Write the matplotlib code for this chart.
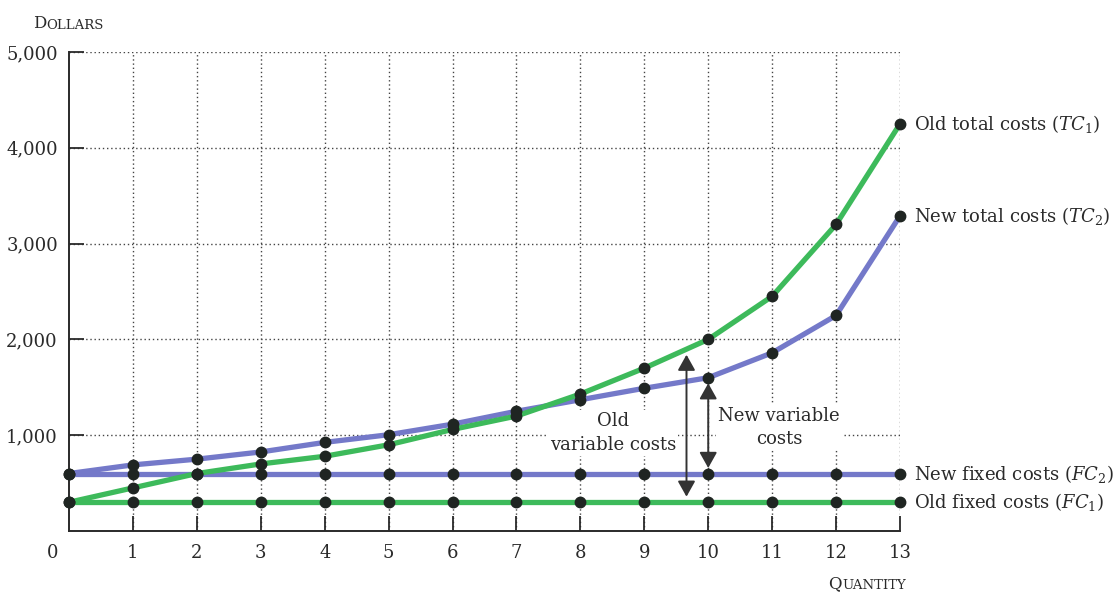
import numpy as np
import matplotlib
matplotlib.use("Agg")
import matplotlib.pyplot as plt

# ---- data -------------------------------------------------------------
quantity = list(range(0, 14))
old_fixed = 300
new_fixed = 600
old_total = [300, 450, 600, 700, 780, 900, 1060, 1200, 1430, 1700, 2000, 2450, 3200, 4250]
new_total = [600, 690, 750, 825, 925, 1005, 1115, 1250, 1370, 1490, 1600, 1860, 2250, 3290]
y_ticks = [1000, 2000, 3000, 4000, 5000]
y_tick_labels = ["1,000", "2,000", "3,000", "4,000", "5,000"]
x_ticks = list(range(1, 14))

# ---- style ------------------------------------------------------------
plt.rcParams["font.family"] = ["DejaVu Serif"]
plt.rcParams["mathtext.fontset"] = "dejavuserif"

GREEN = "#3dba5b"
BLUE = "#7479c9"
DOT = "#1f2522"
INK = "#2a2a2a"

fig = plt.figure(figsize=(11.19, 5.94), dpi=100)
ax = fig.add_axes([69 / 1119, 63 / 594, (900 - 69) / 1119, (531 - 52) / 594])

ax.set_xlim(0, 13)
ax.set_ylim(0, 5000)

q = np.array(quantity)
fc1 = np.full(len(q), old_fixed)
fc2 = np.full(len(q), new_fixed)
tc1 = np.array(old_total)
tc2 = np.array(new_total)

lw = 3.8
ax.plot(q, fc2, color=BLUE, lw=lw, zorder=3, clip_on=False, solid_capstyle="butt")
ax.plot(q, tc2, color=BLUE, lw=lw, zorder=3, clip_on=False, solid_capstyle="butt")
ax.plot(q, fc1, color=GREEN, lw=lw, zorder=4, clip_on=False, solid_capstyle="butt")
ax.plot(q, tc1, color=GREEN, lw=lw, zorder=4, clip_on=False, solid_capstyle="butt")

for series in (fc1, fc2, tc1, tc2):
    ax.plot(q, series, linestyle="none", marker="o", ms=7.5, color=DOT,
            zorder=6, clip_on=False)

# ---- axes, ticks, grid -----------------------------------------------
for side in ("top", "right"):
    ax.spines[side].set_visible(False)
for side in ("left", "bottom"):
    ax.spines[side].set_linewidth(1.4)
    ax.spines[side].set_color(INK)

ax.set_yticks(y_ticks)
ax.set_yticklabels(y_tick_labels)
ax.set_xticks(x_ticks)
ax.set_xticklabels([str(v) for v in x_ticks])
ax.tick_params(axis="both", direction="in", length=11, width=1.3, color=INK,
               labelsize=13, labelcolor=INK)
ax.tick_params(axis="x", pad=9)
ax.tick_params(axis="y", pad=8)
ax.grid(True, linestyle=(0, (1, 2)), color="#444444", linewidth=1.0, zorder=1)
ax.set_axisbelow(True)

ax.annotate("0", xy=(0, 0), xytext=(-16, -22), textcoords="offset pixels",
            ha="center", va="center", fontsize=13, color=INK)

# Small-caps axis titles
def small_caps(x, y, dx, dy, first, rest):
    t1 = ax.annotate(first, xy=(x, y), xytext=(dx, dy), textcoords="offset pixels",
                     ha="left", va="baseline", fontsize=12, color=INK,
                     annotation_clip=False)
    ax.annotate(rest, xy=(1, 0), xycoords=t1, ha="left", va="bottom",
                fontsize=9.5, color=INK, annotation_clip=False)

small_caps(0, 5000, -36, 24, "D", "OLLARS")
small_caps(11.88, 0, 0, -57, "Q", "UANTITY")

# ---- series labels ----------------------------------------------------
label_kw = dict(textcoords="offset pixels", xytext=(14, 0), ha="left",
                va="center", fontsize=13, color=INK, annotation_clip=False)
ax.annotate("Old total costs ($TC_1$)", xy=(13, tc1[-1]), **label_kw)
ax.annotate("New total costs ($TC_2$)", xy=(13, tc2[-1]), **label_kw)
ax.annotate("New fixed costs ($FC_2$)", xy=(13, new_fixed), **label_kw)
ax.annotate("Old fixed costs ($FC_1$)", xy=(13, old_fixed), **label_kw)

# ---- variable-cost arrows --------------------------------------------
arrow = dict(arrowstyle="<|-|>,head_length=0.5,head_width=0.28",
             mutation_scale=19, color="#333333", lw=1.4,
             shrinkA=4, shrinkB=4)
x_old = 9.66
ax.annotate("", xy=(x_old, np.interp(x_old, q, tc1)), xytext=(x_old, old_fixed),
            arrowprops=arrow, zorder=7)
ax.annotate("", xy=(10, tc2[10]), xytext=(10, new_fixed),
            arrowprops=arrow, zorder=7)

box = dict(facecolor="white", edgecolor="none", pad=1.5)
ax.text(8.51, 1020, "Old\nvariable costs", ha="center", va="center",
        fontsize=13, color=INK, linespacing=1.4, bbox=box, zorder=5)
ax.text(11.11, 1079, "New variable\ncosts", ha="center", va="center",
        fontsize=13, color=INK, linespacing=1.35, bbox=box, zorder=5)

fig.savefig("out.png", dpi=100, facecolor="white")
